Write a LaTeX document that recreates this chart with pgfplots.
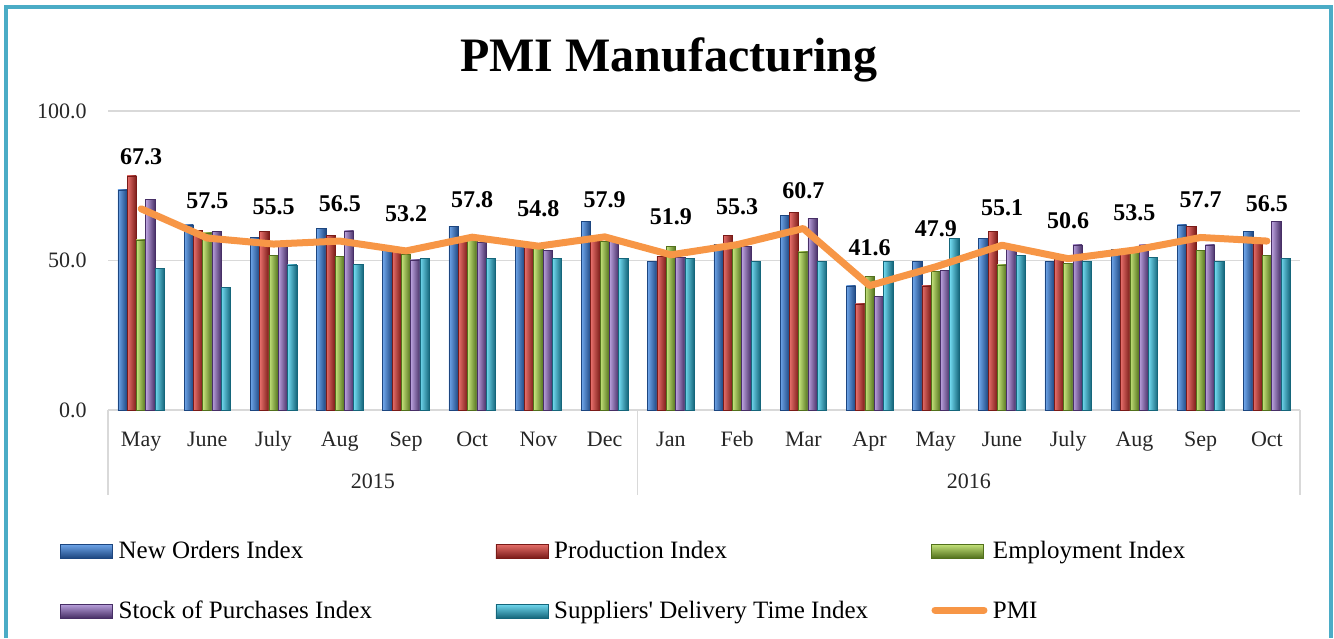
\documentclass[border=0pt]{standalone}
\usepackage{fontspec}
\setmainfont{Liberation Serif}
\usepackage{pgfplots}
\pgfplotsset{compat=1.18}
\usepackage{pgfplotstable}

\definecolor{frameC}{HTML}{4BACC6}
\definecolor{gridC}{HTML}{D9D9D9}
\definecolor{noL}{HTML}{6FA6EA}\definecolor{noM}{HTML}{3470C0}\definecolor{noD}{HTML}{1D4680}
\definecolor{prL}{HTML}{E8706B}\definecolor{prM}{HTML}{BC3631}\definecolor{prD}{HTML}{7A1B18}
\definecolor{emL}{HTML}{C6E47C}\definecolor{emM}{HTML}{8CB63C}\definecolor{emD}{HTML}{52711C}
\definecolor{stL}{HTML}{BBA2DE}\definecolor{stM}{HTML}{7A57A4}\definecolor{stD}{HTML}{472F66}
\definecolor{sdL}{HTML}{72DAF0}\definecolor{sdM}{HTML}{29A3C1}\definecolor{sdD}{HTML}{15667B}
\definecolor{pmiC}{HTML}{F79646}

\pgfplotstableread{
idx NO PR EM ST SD PMI
0  73.6 78.3 56.9 70.5 47.4 67.3
1  61.9 60.2 59.2 59.6 41.0 57.5
2  57.8 59.6 51.8 55.0 48.5 55.5
3  60.8 58.5 51.5 59.9 48.8 56.5
4  54.0 53.5 52.1 50.2 50.7 53.2
5  61.5 57.0 57.5 56.0 50.7 57.8
6  55.0 54.5 54.0 53.5 50.7 54.8
7  63.0 58.0 56.3 57.8 50.7 57.9
8  49.6 51.5 54.8 51.1 50.7 51.9
9  55.5 58.5 55.0 54.6 49.6 55.3
10 65.2 66.0 52.9 64.1 49.8 60.7
11 41.5 35.5 44.8 37.9 49.6 41.6
12 49.6 41.5 46.3 46.8 57.4 47.9
13 57.4 59.6 48.5 55.0 51.8 55.1
14 49.6 51.0 49.1 55.2 49.6 50.6
15 53.7 53.0 53.5 55.2 51.1 53.5
16 61.9 61.5 53.5 55.2 49.8 57.7
17 59.6 57.0 51.8 63.0 50.7 56.5
}\pmidata

\pgfplotsset{
  mybar/.style n args={4}{ybar, bar width=4.65pt, bar shift=#1,
    draw=#4, line width=0.3pt, left color=#2, middle color=#3, right color=#4,
    legend image code/.code={\shade[top color=#2, bottom color=#4, draw=#4, line width=0.3pt] (0pt,0pt) rectangle (26pt,7pt); \path (29pt,0pt);}},
}

\begin{document}
\begin{tikzpicture}
\useasboundingbox (0pt,0pt) rectangle (667pt,319pt);
\draw[frameC, line width=2pt] (3pt,0pt) -- (3pt,315.5pt) -- (665.3pt,315.5pt) -- (665.3pt,0pt);
\node[anchor=base, inner sep=0pt, font=\bfseries\fontsize{24}{29}\selectfont] at (334.5pt,283pt) {PMI Manufacturing};
\begin{axis}[
  at={(54pt,114pt)}, anchor=south west,
  scale only axis, width=596pt, height=149.5pt,
  xmin=-0.5, xmax=17.5, ymin=0, ymax=100,
  clip=false,
  /pgf/number format/assume math mode=true,
  axis line style={draw=none},
  major tick length=0pt,
  ymajorgrids, grid style={gridC, line width=0.6pt},
  ytick={0,50,100}, yticklabels={0.0,50.0,100.0},
  xtick={0,...,17},
  xticklabels={May,June,July,Aug,Sep,Oct,Nov,Dec,Jan,Feb,Mar,Apr,May,June,July,Aug,Sep,Oct},
  tick label style={font=\fontsize{11}{13}\selectfont, text=black!85},
  yticklabel style={inner sep=0pt, anchor=east, xshift=-10.5pt},
  xticklabel style={inner sep=0pt, anchor=base, yshift=-18pt},
  legend columns=3,
  legend cell align=left,
  legend style={at={(-0.04027,-0.4348)}, anchor=north west, draw=none, fill=none,
    inner sep=0pt, outer sep=0pt, row sep=18pt, column sep=0pt,
    nodes={inner sep=0pt, outer sep=0pt, text height=9pt, text depth=3pt, anchor=base west},
    font=\fontsize{12.5}{15}\selectfont},
]
\pgfplotsinvokeforeach{0,...,17}{
\addplot[mybar={-9.3pt}{noL}{noM}{noD}, forget plot, restrict x to domain=#1:#1] table[x=idx,y=NO]{\pmidata};
\addplot[mybar={-4.65pt}{prL}{prM}{prD}, forget plot, restrict x to domain=#1:#1] table[x=idx,y=PR]{\pmidata};
\addplot[mybar={0pt}{emL}{emM}{emD}, forget plot, restrict x to domain=#1:#1] table[x=idx,y=EM]{\pmidata};
\addplot[mybar={4.65pt}{stL}{stM}{stD}, forget plot, restrict x to domain=#1:#1] table[x=idx,y=ST]{\pmidata};
\addplot[mybar={9.3pt}{sdL}{sdM}{sdD}, forget plot, restrict x to domain=#1:#1] table[x=idx,y=SD]{\pmidata};
}
\addlegendimage{mybar={-9.3pt}{noL}{noM}{noD}}
\addlegendentry{\makebox[188.5pt][l]{New Orders Index}}
\addlegendimage{mybar={-4.65pt}{prL}{prM}{prD}}
\addlegendentry{\makebox[188.5pt][l]{Production Index}}
\addlegendimage{mybar={0pt}{emL}{emM}{emD}}
\addlegendentry{\makebox[188.5pt][l]{Employment Index}}
\addlegendimage{mybar={4.65pt}{stL}{stM}{stD}}
\addlegendentry{\makebox[188.5pt][l]{Stock of Purchases Index}}
\addlegendimage{mybar={9.3pt}{sdL}{sdM}{sdD}}
\addlegendentry{\makebox[188.5pt][l]{Suppliers\textquotesingle{} Delivery Time Index}}
\addplot[pmiC, line width=3.5pt, line join=round, line cap=round, mark=none, sharp plot,
  point meta=y,
  nodes near coords={\pgfmathprintnumber[fixed,fixed zerofill,precision=1]{\pgfplotspointmeta}},
  nodes near coords style={text=black, font=\bfseries\fontsize{12}{14}\selectfont, inner sep=0pt, anchor=south, yshift=13pt},
  coordinate style/.condition={x==0}{yshift=7pt},
  legend image code/.code={\draw[pmiC, line width=3.5pt, line cap=round] (1.75pt,4pt) -- (26.25pt,4pt); \path (29pt,0pt);}
] table[x=idx,y=PMI]{\pmidata};
\addlegendentry{PMI}
\draw[gridC, line width=0.6pt] (axis cs:-0.5,0) -- ++(0pt,-42.5pt);
\draw[gridC, line width=0.6pt] (axis cs:7.5,0) -- ++(0pt,-42.5pt);
\draw[gridC, line width=0.6pt] (axis cs:17.5,0) -- ++(0pt,-42.5pt);
\node[anchor=base, inner sep=0pt, font=\fontsize{11}{13}\selectfont, text=black!85, yshift=-39pt] at (axis cs:3.5,0) {2015};
\node[anchor=base, inner sep=0pt, font=\fontsize{11}{13}\selectfont, text=black!85, yshift=-39pt] at (axis cs:12.5,0) {2016};
\end{axis}
\end{tikzpicture}
\end{document}
